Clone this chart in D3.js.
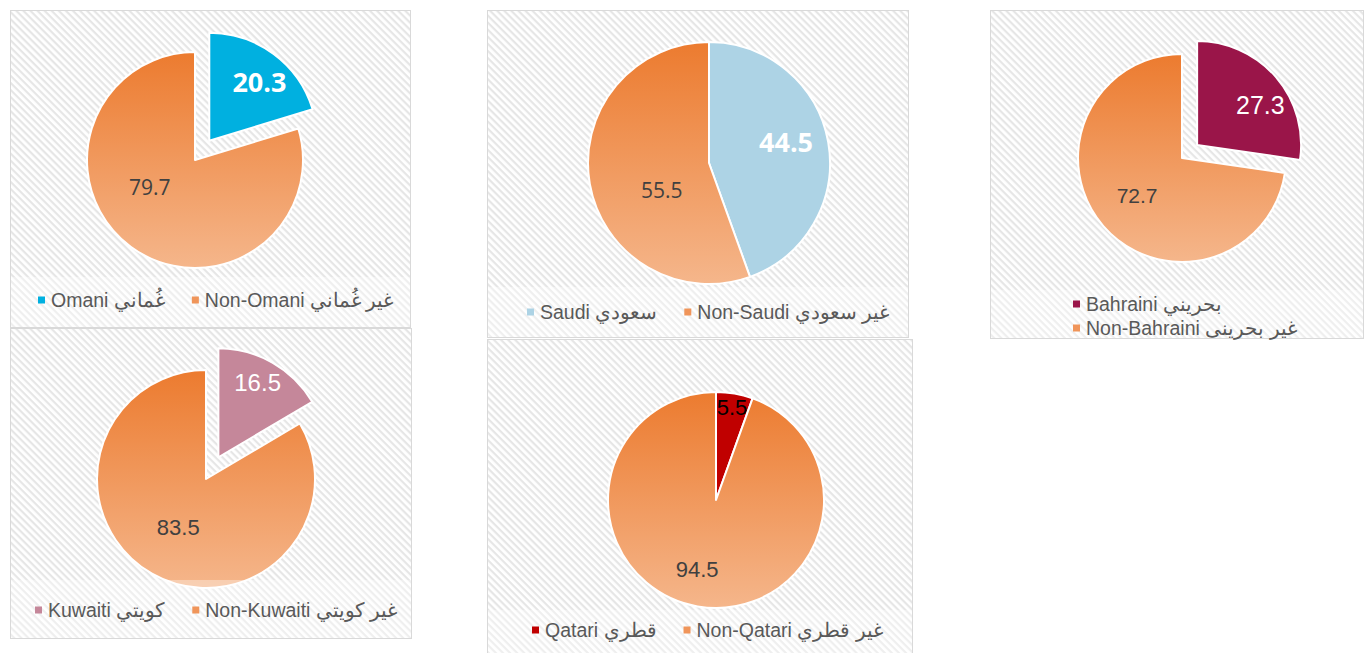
<!DOCTYPE html>
<html>
<head>
<meta charset="utf-8">
<script src="https://cdn.jsdelivr.net/npm/d3@7"></script>
<style>
  html, body { margin: 0; padding: 0; background: #ffffff; }
  svg { display: block; }
</style>
</head>
<body>
<svg id="chart" width="1365" height="653"></svg>
<script>
// ---------------- DATA ----------------
const countries = ["Omani", "Saudi", "Bahraini", "Kuwaiti", "Qatari"];
const nationalShare = [20.3, 44.5, 27.3, 16.5, 5.5];
const nonNationalShare = [79.7, 55.5, 72.7, 83.5, 94.5];
const nationalLabels = ["Omani غُماني", "Saudi سعودي", "Bahraini بحريني", "Kuwaiti كويتي", "Qatari قطري"];
const nonNationalLabels = ["Non-Omani غير غُماني", "Non-Saudi غير سعودي", "Non-Bahraini غير بحرينى", "Non-Kuwaiti غير كويتي", "Non-Qatari غير قطري"];

// ---------------- STYLE / LAYOUT ----------------
const nationalColors = ["#00B0E0", "#ADD3E5", "#9A1549", "#C5879A", "#C00000"];
const orangeTop = "#EC7B2F", orangeBottom = "#F5B68B";

const layout = [
  {x:10, y:10, w:400, h:317, cx:195, cy:160, r:108, explode:24, legendTop:277, legendX:38, legendY:300, rows:false,
   font:"'Open Sans', sans-serif", natBold:true, natSize:27, natColor:"#fff", nonSize:21, natLabel:[40.8,0.71], nonLabel:[239,0.49]},
  {x:487, y:10, w:421, h:327, cx:709, cy:163, r:121, explode:0, legendTop:287, legendX:527, legendY:312, rows:false,
   font:"'Open Sans', sans-serif", natBold:true, natSize:27, natColor:"#fff", nonSize:21, natLabel:[74.7,0.66], nonLabel:[240,0.45]},
  {x:990, y:10, w:373, h:328, cx:1182, cy:158, r:104, explode:20, legendTop:290, legendX:1073, legendY:304, rows:true,
   font:"'Liberation Sans', Arial, sans-serif", natBold:false, natSize:25, natColor:"#fff", nonSize:21, natLabel:[57.6,0.72], nonLabel:[230.5,0.56]},
  {x:10, y:328, w:401, h:310, cx:206, cy:479, r:109, explode:25, legendTop:580, legendX:35, legendY:610, rows:false,
   font:"'Liberation Sans', Arial, sans-serif", natBold:false, natSize:24, natColor:"#fff", nonSize:22, natLabel:[27.5,0.78], nonLabel:[210,0.51]},
  {x:487, y:339, w:425, h:330, cx:716, cy:500, r:108, explode:0, legendTop:610, legendX:532, legendY:630, rows:false,
   font:"'Liberation Sans', Arial, sans-serif", natBold:false, natSize:22, natColor:"#000", nonSize:22, natLabel:[9.8,0.87], nonLabel:[195.4,0.66]}
];

const svg = d3.select("#chart");
const defs = svg.append("defs");

// hatch pattern
const pat = defs.append("pattern")
  .attr("id", "hatch").attr("patternUnits", "userSpaceOnUse")
  .attr("width", 5).attr("height", 5)
  .attr("patternTransform", "rotate(45)");
pat.append("rect").attr("width", 5).attr("height", 5).attr("fill", "#ffffff");
pat.append("rect").attr("width", 5).attr("height", 2.2).attr("fill", "#e6e6e6");

const pie = d3.pie().sort(null).value(d => d.value);
const deg = Math.PI / 180;

countries.forEach((country, i) => {
  const L = layout[i];
  const g = svg.append("g").attr("class", "panel-" + country);

  // panel background + border
  g.append("rect").attr("x", L.x + 0.5).attr("y", L.y + 0.5).attr("width", L.w).attr("height", L.h)
    .attr("fill", "url(#hatch)").attr("stroke", "#d9d9d9").attr("stroke-width", 1);

  // gradient for non-national slice (local coords of pie group)
  const gradId = "grad" + i;
  const grad = defs.append("linearGradient").attr("id", gradId)
    .attr("gradientUnits", "userSpaceOnUse")
    .attr("x1", 0).attr("x2", 0).attr("y1", -L.r).attr("y2", L.r);
  grad.append("stop").attr("offset", "0%").attr("stop-color", orangeTop);
  grad.append("stop").attr("offset", "100%").attr("stop-color", orangeBottom);

  const data = [
    {key: "national", value: nationalShare[i], color: nationalColors[i], label: nationalLabels[i]},
    {key: "non", value: nonNationalShare[i], color: "url(#" + gradId + ")", legendColor: "#F0955A", label: nonNationalLabels[i]}
  ];
  const arcs = pie(data);
  const arc = d3.arc().innerRadius(0).outerRadius(L.r);

  const pieG = g.append("g").attr("transform", `translate(${L.cx},${L.cy})`);
  arcs.forEach(a => {
    const mid = (a.startAngle + a.endAngle) / 2;
    const ex = a.data.key === "national" ? L.explode : 0;
    const ox = Math.sin(mid) * ex, oy = -Math.cos(mid) * ex;
    const sg = pieG.append("g").attr("transform", `translate(${ox},${oy})`);
    sg.append("path").attr("d", arc(a))
      .attr("fill", a.data.color)
      .attr("stroke", "#ffffff").attr("stroke-width", 2).attr("stroke-linejoin", "round");

    const spec = a.data.key === "national" ? L.natLabel : L.nonLabel;
    const ang = spec[0] * deg, rr = spec[1] * L.r;
    const lbl = sg.append("text")
      .attr("x", Math.sin(ang) * rr).attr("y", -Math.cos(ang) * rr)
      .attr("text-anchor", "middle").attr("dy", "0.36em")
      .style("font-family", L.font)
      .text(d3.format(".1f")(a.data.value));
    if (a.data.key === "national") {
      lbl.attr("fill", L.natColor).style("font-size", L.natSize + "px")
        .style("font-weight", L.natBold ? "700" : "400");
    } else {
      lbl.attr("fill", "#404040").style("font-size", L.nonSize + "px");
    }
  });

  // legend overlay (semi-transparent)
  g.append("rect").attr("x", L.x + 1).attr("y", L.legendTop)
    .attr("width", L.w - 1).attr("height", L.y + L.h - L.legendTop)
    .attr("fill", "#ffffff").attr("opacity", 0.35);

  // legend
  const lg = g.append("g");
  let lx = L.legendX, ly = L.legendY;
  data.forEach((d, k) => {
    if (L.rows && k > 0) { lx = L.legendX; ly += 24; }
    lg.append("rect").attr("x", lx).attr("y", ly - 3.5).attr("width", 7).attr("height", 7)
      .attr("fill", d.key === "national" ? d.color : d.legendColor);
    const t = lg.append("text").attr("x", lx + 13).attr("y", ly).attr("dy", "0.35em")
      .attr("fill", "#595959")
      .style("font-family", "'Liberation Sans', Arial, sans-serif").style("font-size", "19.5px")
      .text(d.label);
    lx = lx + 13 + t.node().getComputedTextLength() + 27;
  });
});
</script>
</body>
</html>
